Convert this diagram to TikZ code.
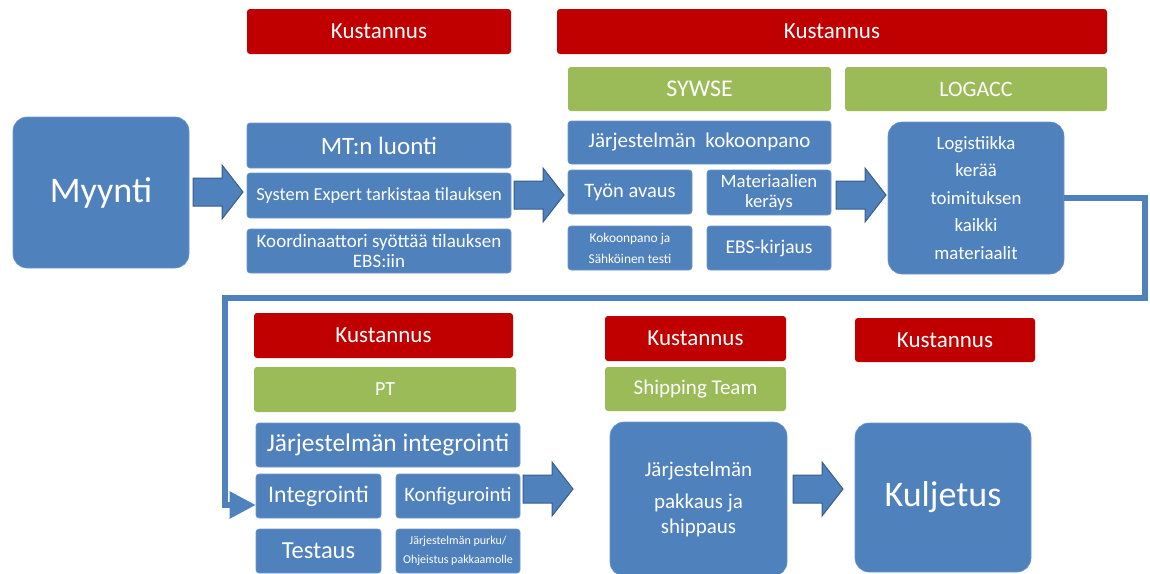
\documentclass[tikz,border=0pt]{standalone}
\usepackage{fontspec}
\setmainfont{Carlito}
\usetikzlibrary{arrows.meta}
\definecolor{boxblue}{HTML}{4F81BD}
\definecolor{boxedge}{HTML}{6F97CA}
\definecolor{arrowedge}{HTML}{385D8A}
\definecolor{costred}{HTML}{C00000}
\definecolor{teamgreen}{HTML}{9BBB59}
\tikzset{
  base/.style={rounded corners=3pt, inner sep=0pt, text=white, align=center, font=\fontsize{17}{20}\selectfont},
  cost/.style={base, fill=costred, font=\fontsize{23}{26}\selectfont},
  team/.style={base, fill=teamgreen, font=\fontsize{22}{25}\selectfont},
  task/.style={base, fill=boxblue, draw=boxedge, line width=0.6pt},
  phase/.style={base, fill=boxblue, draw=boxedge, line width=0.6pt, rounded corners=14pt},
  flowarrow/.style={draw=arrowedge, fill=boxblue, line width=1pt, line join=miter},
  link/.style={draw=boxblue, line width=5.5pt, -{Triangle[length=26pt,width=26pt]}}
}
% block arrow: left end of the shaft at (#1,#2), 50 long, pointing right
\newcommand\blockarrow[2]{%
  \draw[flowarrow] (#1,#2-14) -- (#1+29,#2-14) -- (#1+29,#2-27) -- (#1+50,#2)
    -- (#1+29,#2+27) -- (#1+29,#2+14) -- (#1,#2+14) -- cycle;}
\begin{document}
\begin{tikzpicture}[x=1pt,y=-1pt]
\useasboundingbox (0,0) rectangle (1150,573);
\begin{scope}
\clip (0,0) rectangle (1150,573);
% --- top row: cost and team labels
\node[cost, minimum width=264pt, minimum height=45pt] (k1) at (379,31.5) {Kustannus};
\node[cost, minimum width=550pt, minimum height=45pt] (k2) at (832,31.5) {Kustannus};
\node[team, minimum width=263pt, minimum height=44pt, font=\fontsize{24}{27}\selectfont] (sywse) at (699.5,89) {SYWSE};
\node[team, minimum width=262pt, minimum height=44pt] (logacc) at (976,89) {LOGACC};
% --- sales
\node[phase, minimum width=176pt, minimum height=151pt, font=\fontsize{36}{42}\selectfont] (myynti) at (101,192.5) {Myynti};
% --- order handling
\node[task, minimum width=264pt, minimum height=45pt, font=\fontsize{25}{28}\selectfont] (mt) at (379,145.5) {MT:n luonti};
\node[task, minimum width=264pt, minimum height=45pt, font=\fontsize{18.4}{21}\selectfont] (sys) at (379,195.5) {System Expert tarkistaa tilauksen};
\node[task, minimum width=264pt, minimum height=44pt, font=\fontsize{19}{19.5}\selectfont] (koord) at (379,251) {Koordinaattori syöttää tilauksen\\EBS:iin};
% --- assembly
\node[task, minimum width=263pt, minimum height=43pt, font=\fontsize{21}{24}\selectfont] (jk) at (699.5,142.5) {Järjestelmän\ \ kokoonpano};
\node[task, minimum width=124pt, minimum height=44pt, font=\fontsize{20.5}{24}\selectfont] (tyon) at (630,192) {Työn avaus};
\node[task, minimum width=124pt, minimum height=45pt, font=\fontsize{18.7}{20}\selectfont] (mat) at (769,192.5) {Materiaalien\\keräys};
\node[task, minimum width=124pt, minimum height=44pt, font=\fontsize{13.4}{21}\selectfont] (kok) at (630,248) {Kokoonpano ja\\Sähköinen testi};
\node[task, minimum width=124pt, minimum height=44pt, font=\fontsize{19.5}{22}\selectfont] (ebs) at (769,248) {EBS-kirjaus};
% --- logistics
\node[phase, minimum width=176pt, minimum height=152pt, font=\fontsize{18.8}{27.5}\selectfont] (log) at (976,198) {Logistiikka\\kerää\\toimituksen\\kaikki\\materiaalit};
% --- bottom row: cost and team labels
\node[cost, minimum width=259pt, minimum height=45pt] (k3) at (383.5,335.5) {Kustannus};
\node[team, minimum width=262pt, minimum height=45pt, font=\fontsize{20}{23}\selectfont] (pt) at (385,389.5) {PT};
\node[cost, minimum width=181pt, minimum height=45pt] (k4) at (695.5,338.5) {Kustannus};
\node[team, minimum width=181pt, minimum height=44pt, font=\fontsize{21}{24}\selectfont] (ship) at (695.5,389) {Shipping Team};
\node[cost, minimum width=180pt, minimum height=44pt] (k5) at (945,340) {Kustannus};
% --- integration
\node[task, minimum width=264pt, minimum height=44pt, font=\fontsize{25.4}{28}\selectfont] (ji) at (388,445) {Järjestelmän integrointi};
\node[task, minimum width=125pt, minimum height=44pt, font=\fontsize{23.8}{27}\selectfont] (integ) at (318.5,496) {Integrointi};
\node[task, minimum width=124pt, minimum height=44pt, font=\fontsize{20.5}{23}\selectfont] (konf) at (458,496) {Konfigurointi};
\node[task, minimum width=125pt, minimum height=44pt, font=\fontsize{24.5}{27}\selectfont] (test) at (318.5,551) {Testaus};
\node[task, minimum width=124pt, minimum height=44pt, font=\fontsize{12}{19}\selectfont] (purku) at (458,551) {Järjestelmän purku/\\Ohjeistus pakkaamolle};
% --- packing and transport
\node[phase, minimum width=177pt, minimum height=154pt, font=\fontsize{21}{25}\selectfont] (pak) at (698.5,499) {Järjestelmän\\[7pt]pakkaus ja\\shippaus};
\node[phase, minimum width=176pt, minimum height=149pt, font=\fontsize{36}{42}\selectfont] (kulj) at (943,497.5) {Kuljetus};
% --- flow arrows
\blockarrow{193}{192}
\blockarrow{514}{195}
\blockarrow{836}{195}
\blockarrow{523}{489}
\blockarrow{793}{489}
% --- return connector from logistics to integration
\coordinate (c1) at (1145,198);
\coordinate (c2) at (1145,298);
\coordinate (c3) at (225,298);
\coordinate (c4) at (225,505);
\draw[link] (log.east |- c1) -- (c1) -- (c2) -- (c3) -- (c4) -- (integ.west |- c4);
\end{scope}
\end{tikzpicture}
\end{document}
